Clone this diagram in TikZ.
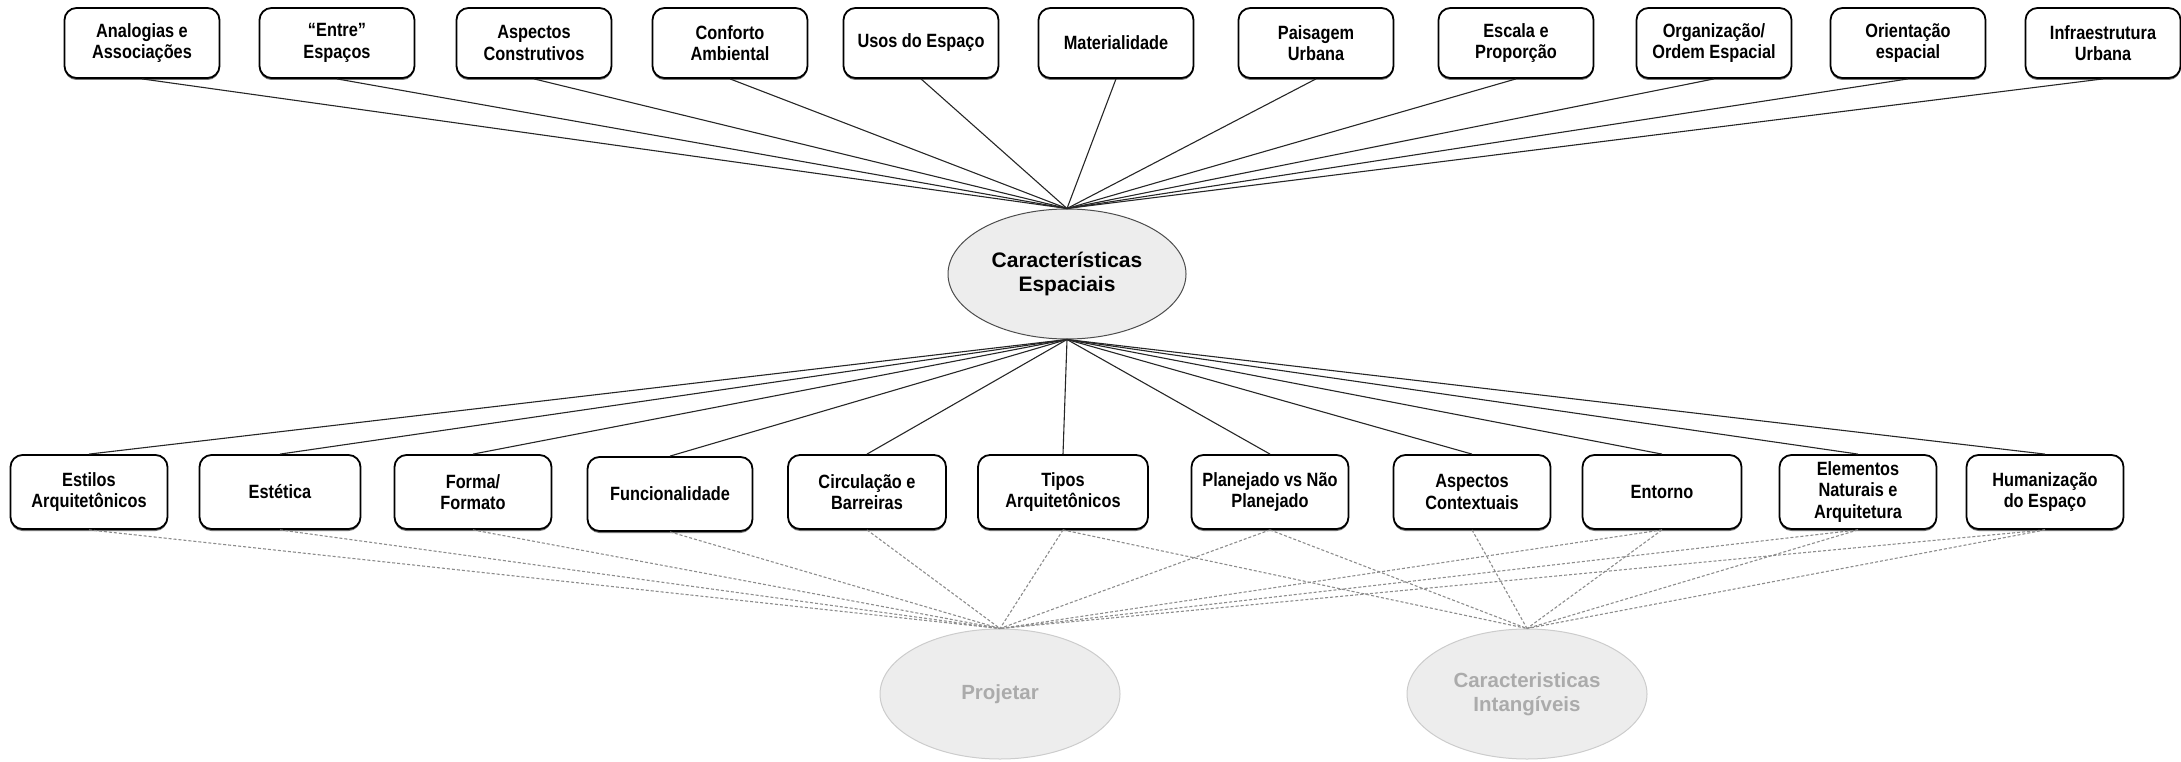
\documentclass[tikz,border=0pt]{standalone}
\usepackage{fontspec}
\setmainfont{Liberation Sans}
\newfontfamily\boxfont{Liberation Sans}[FakeStretch=0.85]
\usetikzlibrary{shapes.geometric,shadows}
\begin{document}
\begin{tikzpicture}[x=1pt,y=-1pt,
  topic/.style={draw=black, line width=1.8pt, rounded corners=12pt, fill=white,
    minimum width=155pt, minimum height=70pt, align=center, inner sep=2pt,
    font=\boxfont\bfseries\fontsize{19.2}{21.5}\selectfont,
    drop shadow={shadow xshift=0pt, shadow yshift=-2pt, opacity=.55, fill=black}},
  lowtopic/.style={topic, minimum height=74pt, minimum width=157pt},
  hub/.style={ellipse, draw=black!70, line width=1pt, fill=black!7,
    minimum width=238pt, minimum height=130pt, inner sep=0pt, align=center,
    font=\bfseries\fontsize{21}{24.5}\selectfont},
  faded/.style={ellipse, draw=black!20, line width=1pt, fill=black!7,
    minimum width=240pt, minimum height=130pt, inner sep=0pt, align=center,
    text=black!33, font=\bfseries\fontsize{20.5}{24.5}\selectfont},
  link/.style={draw=black!85, line width=1.1pt},
  weak/.style={draw=black!45, line width=1.1pt, dash pattern=on 3pt off 2pt}]

\useasboundingbox (0,0) rectangle (2181,762);

% central concept
\node[hub] (ce) at (1067,274) {Características\\Espaciais};

% upper row of aspects
\node[topic] (t1)  at (142,43)  {Analogias e\\Associações};
\node[topic] (t2)  at (337,43)  {“Entre”\\Espaços};
\node[topic] (t3)  at (534,43)  {Aspectos\\Construtivos};
\node[topic] (t4)  at (730,43)  {Conforto\\Ambiental};
\node[topic] (t5)  at (921,43)  {Usos do Espaço};
\node[topic] (t6)  at (1116,43) {Materialidade};
\node[topic] (t7)  at (1316,43) {Paisagem\\Urbana};
\node[topic] (t8)  at (1516,43) {Escala e\\Proporção};
\node[topic] (t9)  at (1714,43) {Organização/\\Ordem Espacial};
\node[topic] (t10) at (1908,43) {Orientação\\espacial};
\node[topic] (t11) at (2103,43) {Infraestrutura\\Urbana};

% lower row of aspects
\node[lowtopic] (b1)  at (89,492)   {Estilos\\Arquitetônicos};
\node[lowtopic, minimum width=161pt] (b2)  at (280,492)  {Estética};
\node[lowtopic] (b3)  at (473,492)  {Forma/\\Formato};
\node[lowtopic, minimum width=165pt] (b4)  at (670,494)  {Funcionalidade};
\node[lowtopic, minimum width=158pt] (b5)  at (867,492)  {Circulação e\\Barreiras};
\node[lowtopic, minimum width=170pt] (b6)  at (1063,492) {Tipos\\Arquitetônicos};
\node[lowtopic] (b7)  at (1270,492) {Planejado vs Não\\Planejado};
\node[lowtopic] (b8)  at (1472,492) {Aspectos\\Contextuais};
\node[lowtopic, minimum width=159pt] (b9)  at (1662,492) {Entorno};
\node[lowtopic] (b10) at (1858,492) {Elementos\\Naturais e\\Arquitetura};
\node[lowtopic] (b11) at (2045,492) {Humanização\\do Espaço};

% faded targets
\node[faded] (pj) at (1000,694) {Projetar};
\node[faded] (ci) at (1527,694) {Caracteristicas\\Intangíveis};

% solid links to the central concept
\foreach \n in {t1,t2,t3,t4,t5,t6,t7,t8,t9,t10,t11}
  \draw[link] (\n.south) -- (ce.north);
\foreach \n in {b1,b2,b3,b4,b5,b6,b7,b8,b9,b10,b11}
  \draw[link] (ce.south) -- (\n.north);

% dashed links to the faded targets
\foreach \n in {b1,b2,b3,b4,b5,b6,b7,b9,b10,b11}
  \draw[weak] (\n.south) -- (pj.north);
\foreach \n in {b6,b7,b8,b9,b10,b11}
  \draw[weak] (\n.south) -- (ci.north);

\end{tikzpicture}
\end{document}
